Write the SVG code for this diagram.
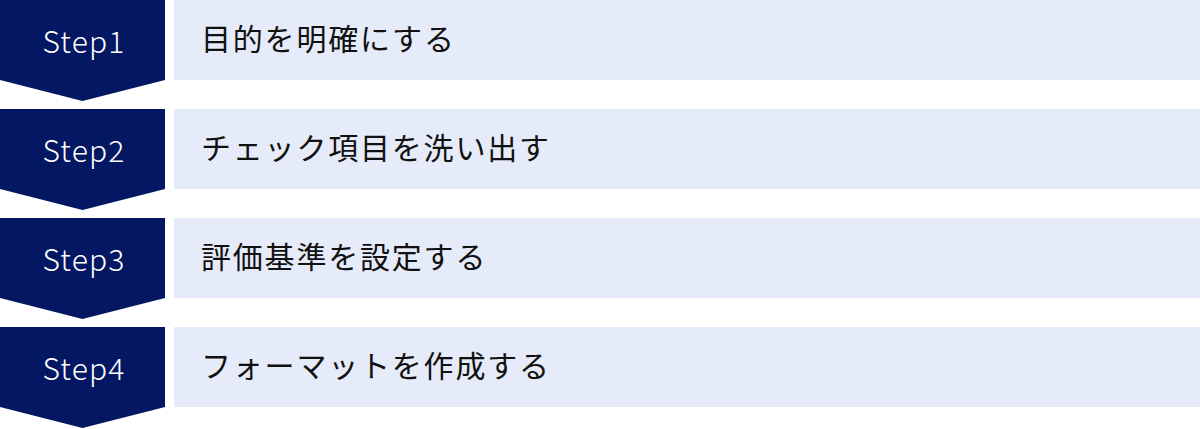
<svg xmlns="http://www.w3.org/2000/svg" width="1200" height="429" viewBox="0 0 1200 429">
<style>
.chev{fill:#041762}
.box{fill:#e5ebf8}
.lbl{font-family:"Noto Sans CJK JP","Noto Sans",sans-serif;font-size:30px;font-weight:300;fill:#ffffff;text-anchor:middle;letter-spacing:1.2px}
.txt{font-family:"Noto Sans CJK JP","Noto Sans",sans-serif;font-size:30px;font-weight:400;fill:#111111;letter-spacing:1.8px}
</style>
<rect width="1200" height="429" fill="#ffffff"/>
<g id="step1">
<polygon class="chev" points="0,0 165,0 165,80 82.5,101 0,80"/>
<rect class="box" x="174" y="0" width="1026" height="80"/>
<text class="lbl" x="84" y="53">Step1</text>
<text class="txt" x="201" y="50">目的を明確にする</text>
</g>
<g id="step2">
<polygon class="chev" points="0,109 165,109 165,189 82.5,210 0,189"/>
<rect class="box" x="174" y="109" width="1026" height="80"/>
<text class="lbl" x="84" y="162">Step2</text>
<text class="txt" x="201" y="159">チェック項目を洗い出す</text>
</g>
<g id="step3">
<polygon class="chev" points="0,218 165,218 165,298 82.5,319 0,298"/>
<rect class="box" x="174" y="218" width="1026" height="80"/>
<text class="lbl" x="84" y="271">Step3</text>
<text class="txt" x="201" y="268">評価基準を設定する</text>
</g>
<g id="step4">
<polygon class="chev" points="0,327 165,327 165,407 82.5,428 0,407"/>
<rect class="box" x="174" y="327" width="1026" height="80"/>
<text class="lbl" x="84" y="380">Step4</text>
<text class="txt" x="201" y="377">フォーマットを作成する</text>
</g>
<g id="connectors"></g>
</svg>
